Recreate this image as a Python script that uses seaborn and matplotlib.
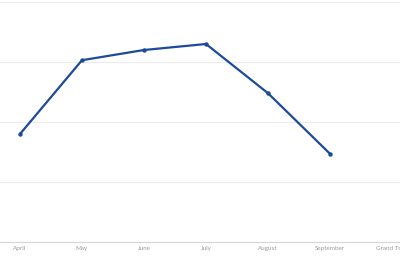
import matplotlib
matplotlib.use("Agg")
import matplotlib.pyplot as plt
import seaborn as sns
import numpy as np
import pandas as pd

months = ["April", "May", "June", "July", "August", "September", "Grand Total"]
values = [1.8, 3.03, 3.2, 3.3, 2.48, 1.47, np.nan]

sns.set_style("white")
plt.rcParams['font.family'] = ['Lato', 'DejaVu Sans']

df = pd.DataFrame({"pos": np.arange(len(months)), "value": values})

fig = plt.figure(figsize=(4.0, 2.66), dpi=100)
ax = fig.add_axes([0, (266 - 242) / 266, 1.0, 240 / 266])

sns.lineplot(data=df, x="pos", y="value", ax=ax, color="#1d4a9a", linewidth=1.6,
             marker="o", markersize=3.2, markeredgewidth=0, zorder=3)

ax.set_ylim(0, 4)
ax.set_xlim(-20 / 62, 380 / 62)
ax.set_yticks([0, 1, 2, 3, 4])
ax.yaxis.grid(True, color="#ececec", linewidth=0.8)
ax.set_yticklabels([])
ax.tick_params(axis="y", length=0)
ax.set_xticks(np.arange(len(months)))
ax.set_xticklabels(months, fontsize=4.5, color="#9a9a9a")
ax.tick_params(axis="x", length=0, pad=3)
for s in ["top", "left", "right"]:
    ax.spines[s].set_visible(False)
ax.spines["bottom"].set_color("#d6d6d6")
ax.spines["bottom"].set_linewidth(0.8)
ax.set_xlabel("")
ax.set_ylabel("")

fig.savefig("out.png", dpi=100)
